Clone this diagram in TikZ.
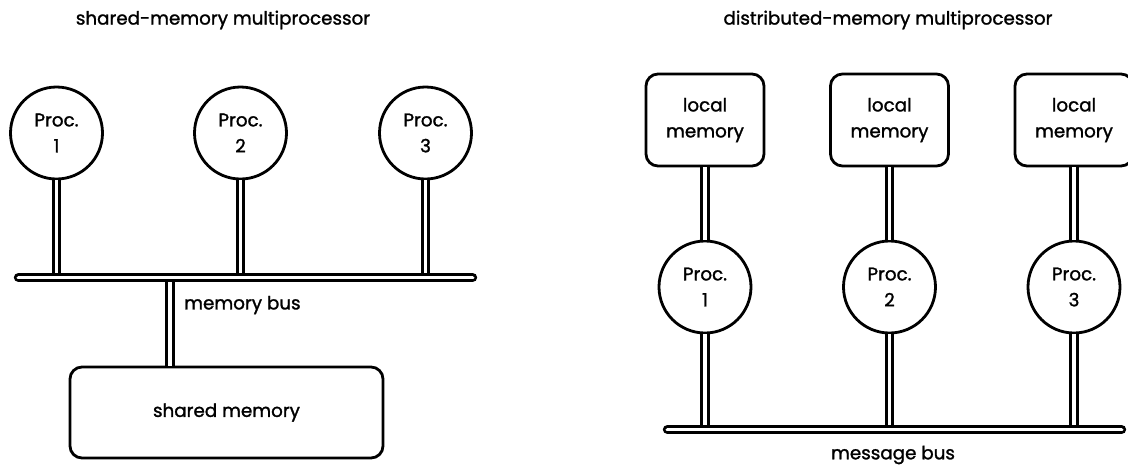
\documentclass[tikz,border=0pt]{standalone}
\usepackage{fontspec}
\setmainfont{Poppins}[FakeBold=1.4]
\begin{document}
\begin{tikzpicture}[x=1pt,y=-1pt,
  every node/.style={font=\fontsize{18.3}{26}\selectfont, text=black},
  proc/.style={circle, draw, line width=2.8pt, fill=white, minimum size=92pt, inner sep=0pt, align=center},
  mem/.style={rectangle, rounded corners=12pt, draw, line width=2.8pt, fill=white, minimum width=118pt, minimum height=92pt, inner sep=0pt, align=center},
  pipe/.style={draw=black, double=white, double distance=3.8pt, line width=2.8pt},
  bus/.style={pipe, line cap=round},
  lbl/.style={inner sep=0pt}
]
\useasboundingbox (0,0) rectangle (1128,467);
\clip (0,0) rectangle (1128,467);

% titles
\node[lbl] (t1) at (223,20) {shared-memory multiprocessor};
\node[lbl] (t2) at (888,20) {distributed-memory multiprocessor};

% ---- shared memory multiprocessor
\node[proc] (a1) at (56.5,133) {Proc.\\1};
\node[proc] (a2) at (240.5,133) {Proc.\\2};
\node[proc] (a3) at (425.5,133) {Proc.\\3};
\coordinate (busLa) at (18.5,277.5);
\coordinate (busLb) at (472.5,277.5);
\node[mem, minimum width=313pt, minimum height=91pt] (sm) at (226.5,412.5) {shared memory};
\coordinate (smtap) at (170,277.5);
\node[lbl, anchor=west] (mb) at (184,305) {memory bus};

\draw[pipe] (a1.south) -- (a1.south |- busLa);
\draw[pipe] (a2.south) -- (a2.south |- busLa);
\draw[pipe] (a3.south) -- (a3.south |- busLa);
\draw[pipe] (smtap) -- (smtap |- sm.north);
\draw[bus] (busLa) -- (busLb);

% ---- distributed memory multiprocessor
\node[mem] (m1) at (705,120) {local\\memory};
\node[mem] (m2) at (889.5,120) {local\\memory};
\node[mem] (m3) at (1074,120) {local\\memory};
\node[proc] (b1) at (705,287) {Proc.\\1};
\node[proc] (b2) at (889.5,287) {Proc.\\2};
\node[proc] (b3) at (1074,287) {Proc.\\3};
\coordinate (busRa) at (667.5,429.5);
\coordinate (busRb) at (1121.5,429.5);
\node[lbl] (msg) at (893,455) {message bus};

\draw[pipe] (m1.south) -- (b1.north);
\draw[pipe] (m2.south) -- (b2.north);
\draw[pipe] (m3.south) -- (b3.north);
\draw[pipe] (b1.south) -- (b1.south |- busRa);
\draw[pipe] (b2.south) -- (b2.south |- busRa);
\draw[pipe] (b3.south) -- (b3.south |- busRa);
\draw[bus] (busRa) -- (busRb);
\end{tikzpicture}
\end{document}
